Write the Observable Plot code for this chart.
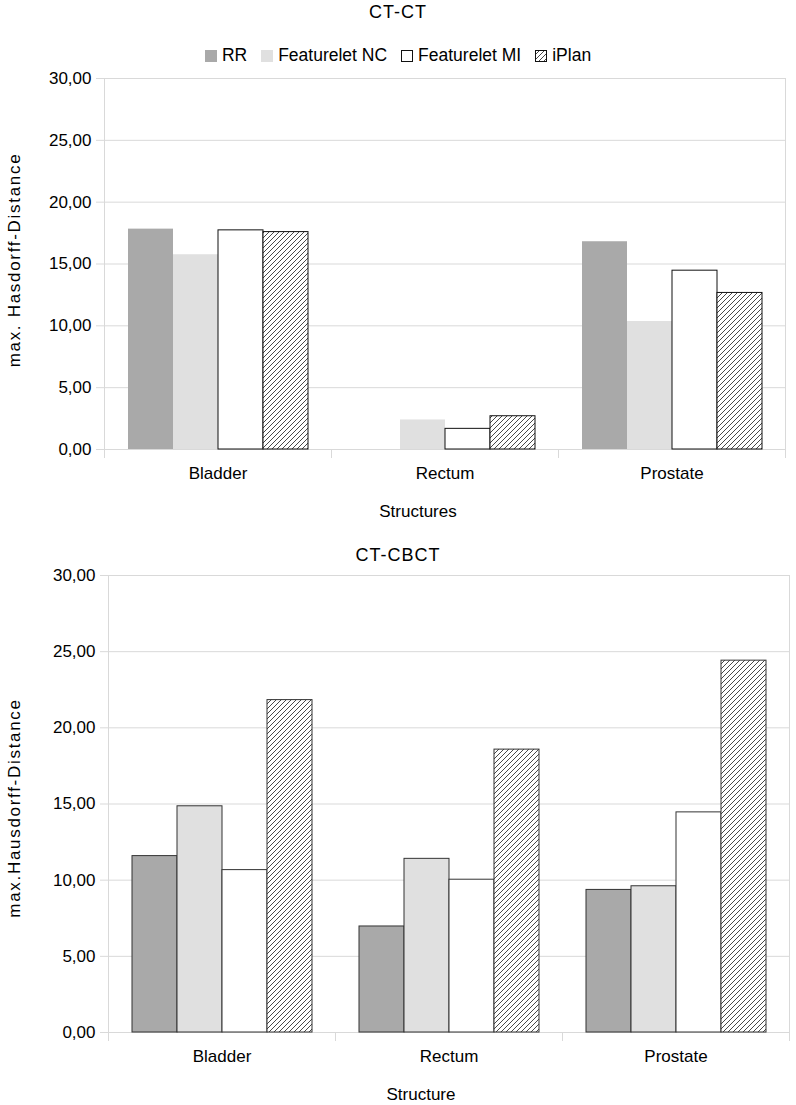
<!DOCTYPE html>
<html><head><meta charset="utf-8">
<script src="https://cdn.jsdelivr.net/npm/d3@7"></script>
<script src="https://cdn.jsdelivr.net/npm/@observablehq/plot@0.6"></script>
<style>
body{margin:0;background:#fff;font-family:"Liberation Sans",Arial,sans-serif;color:#000;}
#page{position:relative;width:796px;height:1105px;overflow:hidden;}
.abs{position:absolute;white-space:nowrap;line-height:1;}
.title{font-size:18px;letter-spacing:1px;left:0;width:796px;text-align:center;}
.ytitle{font-size:17px;letter-spacing:1.7px;transform:translate(-50%,-50%) rotate(-90deg);}
.xtitle{font-size:17px;transform:translate(-50%,-50%);}
.legend{left:0;width:796px;display:flex;justify-content:center;align-items:center;font-size:17.5px;}
.item{display:flex;align-items:center;margin:0 7px;}
.sw{width:12px;height:12px;margin-right:5px;box-sizing:border-box;}
</style></head><body>
<svg width="0" height="0" style="position:absolute">
  <defs>
    <pattern id="hatch" patternUnits="userSpaceOnUse" width="5" height="5">
      <rect width="5" height="5" fill="#fff"></rect>
      <path d="M-1,1 l2,-2 M0,5 l5,-5 M4,6 l2,-2" stroke="#333" stroke-width="0.9"></path>
    </pattern>
  </defs>
</svg>
<div id="page"></div>
<script>
// ---- data ----
const structures = ["Bladder", "Rectum", "Prostate"];
const series = ["RR", "Featurelet NC", "Featurelet MI", "iPlan"];
const seriesFills = ["#a9a9a9", "#e0e0e0", "#ffffff", "url(#hatch)"];
const yTicks = [0, 5, 10, 15, 20, 25, 30];

// CT-CT (max. Hausdorff distance)
const ctctRR    = [17.82, 0,    16.80];
const ctctNC    = [15.75, 2.39, 10.35];
const ctctMI    = [17.72, 1.67, 14.46];
const ctctIPlan = [17.58, 2.69, 12.66];

// CT-CBCT
const cbctRR    = [11.58, 6.96,  9.36];
const cbctNC    = [14.85, 11.40, 9.60];
const cbctMI    = [10.66, 10.03, 14.45];
const cbctIPlan = [21.82, 18.57, 24.41];

const fmt = d => d.toFixed(2).replace(".", ",");

function toRows(cols) {
  return structures.flatMap((st, i) => series.map((s, j) => ({structure: st, series: s, value: cols[j][i]})));
}

const page = document.getElementById("page");
const gray = "#d9d9d9";

function chart(rows, o) {
  const plotH = o.height - o.marginTop - o.marginBottom;
  const common = {fx: "structure", x: "series", y: "value", fill: "series"};
  const bars = o.outlineAll
    ? [Plot.barY(rows, {...common, stroke: "#333", strokeWidth: 1})]
    : [
        Plot.barY(rows.filter(d => d.series === "RR" || d.series === "Featurelet NC"), common),
        Plot.barY(rows.filter(d => d.series === "Featurelet MI" || d.series === "iPlan"), {...common, stroke: "#111", strokeWidth: 1})
      ];
  const svg = Plot.plot({
    width: 796, height: o.height,
    marginTop: o.marginTop, marginBottom: o.marginBottom,
    marginLeft: o.marginLeft, marginRight: o.marginRight,
    style: {fontFamily: "'Liberation Sans', Arial, sans-serif", fontSize: "17px", color: "#000", background: "transparent", overflow: "visible"},
    fx: {domain: structures, padding: 0, label: null},
    x: {domain: series, paddingInner: 0, paddingOuter: 0.5, axis: null},
    y: {domain: [0, 30], label: null},
    color: {type: "ordinal", domain: series, range: seriesFills},
    marks: [
      Plot.gridY(yTicks, {stroke: gray, strokeOpacity: 1}),
      Plot.frame({anchor: "left", stroke: gray, strokeOpacity: 1, insetTop: plotH, insetBottom: -8}),
      Plot.frame({anchor: "left", facetAnchor: "left", stroke: gray, strokeOpacity: 1, insetBottom: -8}),
      Plot.frame({anchor: "right", facetAnchor: "right", stroke: gray, strokeOpacity: 1, insetBottom: -8}),
      ...bars,
      Plot.axisY(yTicks, {facetAnchor: "left", tickSize: 8, stroke: gray, strokeOpacity: 1, tickPadding: 5, tickFormat: fmt, label: null, fill: "#000"}),
      Plot.axisFx({anchor: "bottom", tickSize: 0, tickPadding: 17, label: null, fill: "#000"})
    ]
  });
  svg.style.position = "absolute";
  svg.style.left = "0px";
  svg.style.top = o.top + "px";
  page.appendChild(svg);
}

chart(toRows([ctctRR, ctctNC, ctctMI, ctctIPlan]),
  {top: 0, height: 530, marginTop: 78, marginBottom: 81, marginLeft: 103, marginRight: 10, outlineAll: false});
chart(toRows([cbctRR, cbctNC, cbctMI, cbctIPlan]),
  {top: 530, height: 575, marginTop: 45, marginBottom: 73, marginLeft: 107, marginRight: 6, outlineAll: true});

function addText(cls, text, css) {
  const d = document.createElement("div");
  d.className = "abs " + cls;
  d.textContent = text;
  Object.assign(d.style, css);
  page.appendChild(d);
  return d;
}

// titles
addText("title", "CT-CT", {top: "3px"});
addText("title", "CT-CBCT", {top: "546px"});

// legend
const leg = document.createElement("div");
leg.className = "abs legend";
leg.style.top = "47px";
series.forEach((s, i) => {
  const it = document.createElement("div");
  it.className = "item";
  const sw = document.createElement("div");
  sw.className = "sw";
  if (i >= 2) {
    sw.innerHTML = '<svg width="12" height="12" style="display:block"><rect x="0.5" y="0.5" width="11" height="11" fill="' + seriesFills[i] + '" stroke="#111" stroke-width="1"></rect></svg>';
  } else {
    sw.style.background = seriesFills[i];
  }
  const t = document.createElement("span");
  t.textContent = s;
  it.appendChild(sw); it.appendChild(t);
  leg.appendChild(it);
});
page.appendChild(leg);

// axis titles
addText("ytitle", "max. Hasdorff-Distance", {left: "14px", top: "260px"});
addText("xtitle", "Structures", {left: "418px", top: "511px"});
addText("ytitle", "max.Hausdorff-Distance", {left: "14px", top: "808px"});
addText("xtitle", "Structure", {left: "421px", top: "1094px"});
</script>
</body></html>
